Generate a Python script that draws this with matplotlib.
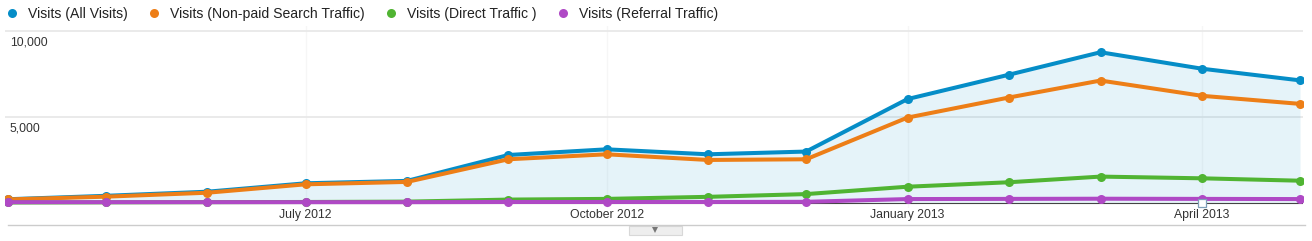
import matplotlib
matplotlib.use("Agg")
import matplotlib.pyplot as plt
import matplotlib.dates as mdates
import matplotlib.patches as patches
from matplotlib.lines import Line2D
from matplotlib.transforms import ScaledTranslation
import numpy as np
import pandas as pd

# data (monthly visits)
months = pd.date_range("2012-04-01", "2013-05-01", freq="MS")
all_visits = [220, 420, 660, 1150, 1290, 2800, 3130, 2840, 3000, 6060, 7480, 8790, 7830, 7150]
nonpaid_search = [210, 370, 600, 1090, 1230, 2550, 2840, 2510, 2550, 4980, 6150, 7140, 6250, 5780]
direct_traffic = [30, 40, 50, 60, 80, 200, 240, 360, 520, 950, 1210, 1540, 1440, 1300]
referral_traffic = [50, 50, 50, 50, 50, 60, 60, 60, 70, 230, 240, 250, 240, 230]

series_names = ["Visits (All Visits)", "Visits (Non-paid Search Traffic)",
                "Visits (Direct Traffic )", "Visits (Referral Traffic)"]
series_colors = ["#058dc7", "#ed7e17", "#50b432", "#af49c5"]

tick_dates = pd.to_datetime(["2012-07-01", "2012-10-01", "2013-01-01", "2013-04-01"])
tick_labels = ["July 2012", "October 2012", "January 2013", "April 2013"]
y_ticks = [5000, 10000]
y_tick_labels = ["5,000", "10,000"]
annotation_dates = pd.to_datetime(["2013-04-01"])

plt.rcParams["font.family"] = ["Liberation Sans", "DejaVu Sans"]

W, H = 1312, 241
fig = plt.figure(figsize=(W / 100, H / 100), dpi=100)

# 1) main axes, placed in pixel terms
ax_left, ax_right, ax_top, ax_bottom = 5, 1303, 26, 208
ax = fig.add_axes([ax_left / W, (H - ax_bottom) / H,
                   (ax_right - ax_left) / W, (ax_bottom - ax_top) / H])
for s in ax.spines.values():
    s.set_visible(False)

x = mdates.date2num(months)
ax.set_xlim(x[0] - 0.9, x[-1] + 0.9)
ax.set_ylim(-291, 10320)

# 2) area + lines
ax.fill_between(x, 0, all_visits, color="#058dc7", alpha=0.1, lw=0, zorder=1)
ax.axhline(0, color="#444444", lw=0.8, zorder=1.5)
for vals, col in zip([all_visits, nonpaid_search, direct_traffic, referral_traffic], series_colors):
    ax.plot(x, vals, color=col, lw=2.9, marker="o", markersize=6.5,
            markeredgewidth=0, solid_capstyle="round", zorder=3)

# annotation marker
ax.plot(mdates.date2num(annotation_dates), [0] * len(annotation_dates), marker="s",
        markersize=5.5, markerfacecolor="white", markeredgecolor="#7f9fb8",
        markeredgewidth=0.9, linestyle="none", zorder=5, clip_on=False)

# 3) ticks and grid
ax.set_xticks(mdates.date2num(tick_dates))
ax.set_xticklabels(tick_labels, fontsize=8.8, color="#333333")
ax.tick_params(axis="x", length=0, pad=1)
ax.set_yticks(y_ticks)
ax.set_yticklabels([])
ax.tick_params(axis="y", length=0)
ax.yaxis.grid(True, color="#e8e8e8", lw=1.3)
ax.xaxis.grid(True, color="#f6f6f6", lw=1)
ax.set_axisbelow(True)

offset = ScaledTranslation(5 / 100, -5 / 100, fig.dpi_scale_trans)
for yv, lab in zip(y_ticks, y_tick_labels):
    ax.text(0, yv, lab, transform=ax.get_yaxis_transform() + offset,
            ha="left", va="top", fontsize=8.8, color="#333333")

# 4) legend
handles = [Line2D([], [], marker="o", linestyle="none", color=c, markersize=6.5,
                  markeredgewidth=0) for c in series_colors]
fig.legend(handles, series_names, loc="upper left", bbox_to_anchor=(7 / W, 1 - 7 / H),
           ncol=4, frameon=False, fontsize=10.1, handlelength=0.7,
           handletextpad=0.77, columnspacing=1.55, borderaxespad=0,
           borderpad=0, labelcolor="#222222")

# 5) bottom rule and the small tab
fig.add_artist(Line2D([8 / W, 1305 / W], [(H - 225) / H] * 2, color="#cccccc", lw=1))
fig.add_artist(patches.Rectangle((629 / W, (H - 235) / H), 53 / W, 9 / H,
                                 transform=fig.transFigure, facecolor="#eeeeee",
                                 edgecolor="#d8d8d8", lw=0.8))
fig.add_artist(Line2D([655 / W], [(H - 229.5) / H], marker="v", markersize=4.5,
                      color="#777777", markeredgewidth=0))

fig.savefig("out.png", dpi=100, facecolor="white")
